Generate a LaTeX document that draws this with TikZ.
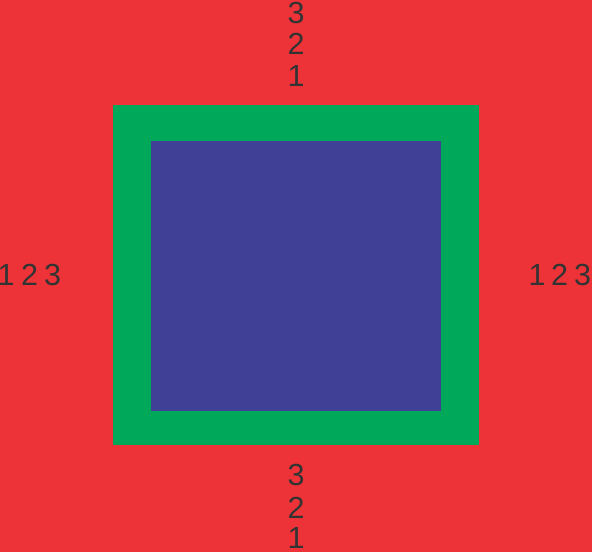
\documentclass[tikz,border=0pt]{standalone}
\usepackage{fontspec}
\setmainfont{Liberation Sans}
\definecolor{bgred}{HTML}{EE3338}
\definecolor{frgreen}{HTML}{00A859}
\definecolor{inblue}{HTML}{3F4096}
\definecolor{digit}{HTML}{333333}
\begin{document}
\begin{tikzpicture}[x=1pt,y=-1pt,
  dig/.style={inner sep=0pt,text=digit,font=\fontsize{30.5}{36}\selectfont,anchor=center}]
\useasboundingbox (0,0) rectangle (592,552);
\fill[bgred] (0,0) rectangle (592,552);
\fill[frgreen] (113,104.5) rectangle (479,445);
\fill[inblue] (150.5,141) rectangle (441,411);
% top
\node[dig] (t3) at (296,12.5) {3};
\node[dig] (t2) at (296,44) {2};
\node[dig] (t1) at (296,76) {1};
% bottom
\node[dig] (b3) at (296,474.5) {3};
\node[dig] (b2) at (296,508) {2};
\node[dig] (b1) at (296,538.5) {1};
% left
\node[dig] (l1) at (6,275) {1};
\node[dig] (l2) at (29.5,275) {2};
\node[dig] (l3) at (52.5,275) {3};
% right
\node[dig] (r1) at (537,275) {1};
\node[dig] (r2) at (559.5,275) {2};
\node[dig] (r3) at (582.5,275) {3};
\end{tikzpicture}
\end{document}
